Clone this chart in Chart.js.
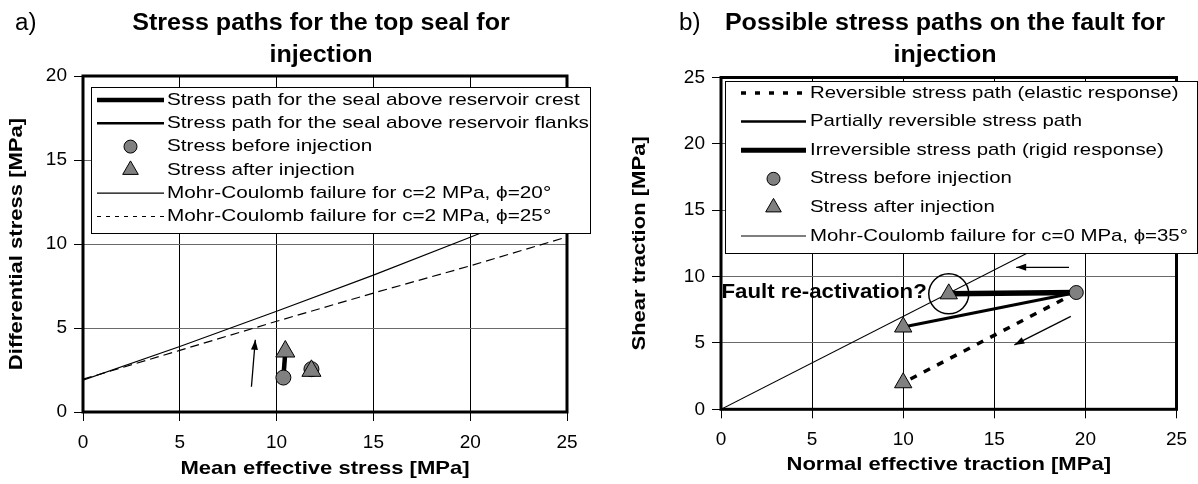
<!DOCTYPE html>
<html>
<head>
<meta charset="utf-8">
<script src="https://cdn.jsdelivr.net/npm/chart.js@4.4.1/dist/chart.umd.min.js"></script>
<style>
	html, body { margin: 0; padding: 0; background: #fff; }
	#wrap { position: relative; width: 1198px; height: 484px; overflow: hidden; }
	.panel { position: absolute; top: 0; height: 484px; }
	#panel-a { left: 0; width: 600px; }
	#panel-b { left: 600px; width: 598px; }
</style>
</head>
<body>
<div id="wrap">
	<div class="panel" id="panel-a"><canvas id="chart-a" width="600" height="484"></canvas></div>
	<div class="panel" id="panel-b"><canvas id="chart-b" width="598" height="484"></canvas></div>
</div>
<script>
// ---- panel a) top seal ----
const sealXTicks = [0, 5, 10, 15, 20, 25];
const sealYTicks = [0, 5, 10, 15, 20];
const sealBeforeX = [10.35, 11.8];
const sealBeforeY = [2.05, 2.55];
const sealAfterX = [10.45, 11.8];
const sealAfterY = [3.6, 2.45];
const mc20X = [0, 5, 10, 15, 20, 25];
const mc20Y = [1.9, 3.9, 6.0, 8.15, 10.4, 12.7];
const mc25X = [0, 5, 10, 15, 20, 25];
const mc25Y = [1.95, 3.67, 5.4, 7.08, 8.7, 10.42];
const sealArrowX = [8.7, 8.9];
const sealArrowY = [1.5, 4.3];

// ---- panel b) fault ----
const faultXTicks = [0, 5, 10, 15, 20, 25];
const faultYTicks = [0, 5, 10, 15, 20, 25];
const faultBeforeX = [19.5];
const faultBeforeY = [8.8];
const faultAfterX = [12.5, 10.0, 10.0]; // rigid, partial, elastic
const faultAfterY = [8.7, 6.2, 2.0];
const mc35X = [0, 25];
const mc35Y = [0, 17.5];
const arrowTopX = [19.1, 16.2];
const arrowTopY = [10.7, 10.7];
const arrowDiagX = [19.2, 16.1];
const arrowDiagY = [7.0, 4.85];

const FONT = '"Liberation Sans", Arial, sans-serif';
const GREY = '#808080';

const pts = (xs, ys) => xs.map((x, i) => ({ x: x, y: ys[i] }));

function stretchText(ctx, text, x, y, font, sx, align, rotate) {
	ctx.save();
	ctx.font = font;
	ctx.fillStyle = '#000';
	ctx.textBaseline = 'middle';
	ctx.textAlign = 'left';
	const w = ctx.measureText(text).width * sx;
	let off = 0;
	if (align === 'center') off = -w / 2;
	if (align === 'right') off = -w;
	ctx.translate(x, y);
	if (rotate) ctx.rotate(-Math.PI / 2);
	ctx.translate(off, 0);
	ctx.scale(sx, 1);
	ctx.fillText(text, 0, 0);
	ctx.restore();
}

function drawSample(ctx, item, x0, x1, y) {
	ctx.save();
	if (item.kind === 'line') {
		ctx.strokeStyle = '#000';
		ctx.lineWidth = item.width;
		ctx.setLineDash(item.dash || []);
		ctx.beginPath();
		ctx.moveTo(x0, y);
		ctx.lineTo(x1, y);
		ctx.stroke();
	} else {
		ctx.fillStyle = GREY;
		ctx.strokeStyle = '#000';
		ctx.lineWidth = 1;
		Chart.helpers.drawPoint(ctx, { pointStyle: item.kind, radius: item.r, rotation: 0, borderWidth: 1 }, (x0 + x1) / 2, y);
	}
	ctx.restore();
}

// frame, legend box, arrowheads, titles
const decorPlugin = {
	id: 'decor',
	afterDatasetsDraw(chart, args, opts) {
		const ctx = chart.ctx;
		const a = chart.chartArea;

		// arrow heads
		chart.data.datasets.forEach((ds, i) => {
			if (!ds.arrow) return;
			const d = chart.getDatasetMeta(i).data;
			const p0 = d[d.length - 2], p1 = d[d.length - 1];
			const ang = Math.atan2(p1.y - p0.y, p1.x - p0.x);
			ctx.save();
			ctx.translate(p1.x, p1.y);
			ctx.rotate(ang);
			ctx.fillStyle = '#000';
			ctx.beginPath();
			ctx.moveTo(0, 0);
			ctx.lineTo(-10, -3.5);
			ctx.lineTo(-10, 3.5);
			ctx.closePath();
			ctx.fill();
			ctx.restore();
		});

		// plot frame
		ctx.save();
		ctx.strokeStyle = '#000';
		ctx.lineWidth = 3;
		ctx.strokeRect(a.left, a.top, a.right - a.left, a.bottom - a.top);
		ctx.restore();

		// legend box
		const lg = opts.legend;
		ctx.save();
		ctx.fillStyle = '#fff';
		ctx.fillRect(lg.x0, lg.y0, lg.x1 - lg.x0, lg.y1 - lg.y0);
		ctx.strokeStyle = '#000';
		ctx.lineWidth = 1;
		ctx.strokeRect(lg.x0 + 0.5, lg.y0 + 0.5, lg.x1 - lg.x0, lg.y1 - lg.y0);
		ctx.restore();
		lg.items.forEach((item, i) => {
			const y = lg.rowY + i * lg.rowH;
			drawSample(ctx, item, lg.sx0, lg.sx1, y);
			stretchText(ctx, item.label, lg.tx, y, '17px ' + FONT, lg.stretch, 'left');
		});

		// titles
		const t = opts.titles;
		stretchText(ctx, t.tag, t.tagX, t.lineY[0], '23px ' + FONT, 1.05, 'left');
		t.lines.forEach((s, i) => stretchText(ctx, s, t.cx, t.lineY[i], 'bold 23px ' + FONT, 1.09, 'center'));
		stretchText(ctx, t.xTitle, (a.left + a.right) / 2, t.xTitleY, 'bold 19px ' + FONT, 1.16, 'center');
		stretchText(ctx, t.yTitle, t.yTitleX, (a.top + a.bottom) / 2, 'bold 19px ' + FONT, 1.16, 'center', true);

		if (opts.note) {
			const xs = chart.scales.x, ys = chart.scales.y;
			const px = xs.getPixelForValue(opts.note.x) - 22;
			const py = ys.getPixelForValue(opts.note.y) - 2;
			stretchText(ctx, opts.note.text, px, py, 'bold 21px ' + FONT, 1.06, 'right');
		}
	}
};

function axes(xTicks, yTicks, xMax, yMax, xHeight, yWidth) {
	const tickFont = { family: FONT, size: 19 };
	return {
		x: {
			type: 'linear', min: 0, max: xMax,
			afterBuildTicks: (s) => { s.ticks = xTicks.map((v) => ({ value: v })); },
			afterFit: (s) => { s.height = xHeight; },
			grid: { color: '#000', lineWidth: 1, tickLength: 9, tickColor: '#000' },
			border: { display: false },
			ticks: { color: '#000', font: tickFont, padding: 10, maxRotation: 0 }
		},
		y: {
			type: 'linear', min: 0, max: yMax,
			afterBuildTicks: (s) => { s.ticks = yTicks.map((v) => ({ value: v })); },
			afterFit: (s) => { s.width = yWidth; },
			grid: { color: '#6a6a6a', lineWidth: 1, tickLength: 9, tickColor: '#000' },
			border: { display: false },
			ticks: { color: '#000', font: tickFont, padding: 7 }
		}
	};
}

function markerSet(label, xs, ys, style, r) {
	return {
		label: label, data: pts(xs, ys), showLine: false,
		pointStyle: style, pointRadius: r, pointBackgroundColor: GREY,
		pointBorderColor: '#000', pointBorderWidth: 1
	};
}

function lineSet(label, data, width, dash, arrow) {
	return {
		label: label, data: data, showLine: true, pointRadius: 0,
		borderColor: '#000', borderWidth: width, borderDash: dash || [],
		tension: 0, arrow: !!arrow
	};
}

function renderSealChart() {
	const ctx = document.getElementById('chart-a');
	new Chart(ctx, {
		type: 'scatter',
		data: {
			datasets: [
				markerSet('Stress after injection', sealAfterX, sealAfterY, 'triangle', 11),
				markerSet('Stress before injection', sealBeforeX, sealBeforeY, 'circle', 7.5),
				lineSet('crest', [{ x: sealBeforeX[0], y: sealBeforeY[0] }, { x: sealAfterX[0], y: sealAfterY[0] }], 4.5),
				lineSet('flanks', [{ x: sealBeforeX[1], y: sealBeforeY[1] }, { x: sealAfterX[1], y: sealAfterY[1] }], 2.5),
				lineSet('mc20', pts(mc20X, mc20Y), 1.2),
				lineSet('mc25', pts(mc25X, mc25Y), 1.2, [9, 5]),
				lineSet('arrow', pts(sealArrowX, sealArrowY), 1.3, [], true)
			]
		},
		options: {
			responsive: false,
			animation: false,
			layout: { padding: { left: 0, right: 33, top: 76, bottom: 0 } },
			scales: axes(sealXTicks, sealYTicks, 25, 20, 72, 83),
			plugins: {
				legend: { display: false },
				tooltip: { enabled: false },
				decor: {
					legend: {
						x0: 91, y0: 87, x1: 590, y1: 233, rowY: 100, rowH: 23.3,
						sx0: 97, sx1: 164, tx: 167, stretch: 1.22,
						items: [
							{ kind: 'line', width: 4.5, label: 'Stress path for the seal above reservoir crest' },
							{ kind: 'line', width: 2.5, label: 'Stress path for the seal above reservoir flanks' },
							{ kind: 'circle', r: 6.5, label: 'Stress before injection' },
							{ kind: 'triangle', r: 9, label: 'Stress after injection' },
							{ kind: 'line', width: 1.2, label: 'Mohr-Coulomb failure for c=2 MPa, ϕ=20°' },
							{ kind: 'line', width: 1.2, dash: [4, 5], label: 'Mohr-Coulomb failure for c=2 MPa, ϕ=25°' }
						]
					},
					titles: {
						tag: 'a)', tagX: 15, cx: 321, lineY: [24, 56],
						lines: ['Stress paths for the top seal for', 'injection'],
						xTitle: 'Mean effective stress [MPa]', xTitleY: 469,
						yTitle: 'Differential stress [MPa]', yTitleX: 17
					}
				}
			}
		},
		plugins: [decorPlugin]
	});
}

function renderFaultChart() {
	const ctx = document.getElementById('chart-b');
	const before = { x: faultBeforeX[0], y: faultBeforeY[0] };
	new Chart(ctx, {
		type: 'scatter',
		data: {
			datasets: [
				{
					label: 'ring', data: pts(faultAfterX.slice(0, 1), faultAfterY.slice(0, 1)), showLine: false,
					pointStyle: 'circle', pointRadius: 20, pointBackgroundColor: 'rgba(0,0,0,0)',
					pointBorderColor: '#000', pointBorderWidth: 1.5
				},
				markerSet('Stress after injection', faultAfterX, faultAfterY, 'triangle', 10),
				markerSet('Stress before injection', faultBeforeX, faultBeforeY, 'circle', 7),
				lineSet('rigid', [before, { x: faultAfterX[0], y: faultAfterY[0] }], 5.5),
				lineSet('partial', [before, { x: faultAfterX[1], y: faultAfterY[1] }], 3),
				lineSet('elastic', [before, { x: faultAfterX[2], y: faultAfterY[2] }], 3.5, [7, 8]),
				lineSet('mc35', pts(mc35X, mc35Y), 1.2),
				lineSet('arrowTop', pts(arrowTopX, arrowTopY), 1.3, [], true),
				lineSet('arrowDiag', pts(arrowDiagX, arrowDiagY), 1.3, [], true)
			]
		},
		options: {
			responsive: false,
			animation: false,
			layout: { padding: { left: 0, right: 14.5, top: 77.5, bottom: 0 } },
			scales: axes(faultXTicks, faultYTicks, 25, 25, 74.7, 121),
			plugins: {
				legend: { display: false },
				tooltip: { enabled: false },
				decor: {
					legend: {
						x0: 125, y0: 81, x1: 597, y1: 253, rowY: 93, rowH: 28.6,
						sx0: 141, sx1: 206, tx: 210, stretch: 1.2,
						items: [
							{ kind: 'line', width: 3.5, dash: [5, 9], label: 'Reversible stress path (elastic response)' },
							{ kind: 'line', width: 2.5, label: 'Partially reversible stress path' },
							{ kind: 'line', width: 5, label: 'Irreversible stress path (rigid response)' },
							{ kind: 'circle', r: 6.5, label: 'Stress before injection' },
							{ kind: 'triangle', r: 9, label: 'Stress after injection' },
							{ kind: 'line', width: 1.2, label: 'Mohr-Coulomb failure for c=0 MPa, ϕ=35°' }
						]
					},
					titles: {
						tag: 'b)', tagX: 79, cx: 345, lineY: [24, 56],
						lines: ['Possible stress paths on the fault for', 'injection'],
						xTitle: 'Normal effective traction [MPa]', xTitleY: 465,
						yTitle: 'Shear traction [MPa]', yTitleX: 40
					},
					note: { text: 'Fault re-activation?', x: faultAfterX[0], y: faultAfterY[0] }
				}
			}
		},
		plugins: [decorPlugin]
	});
}

renderSealChart();
renderFaultChart();
</script>
</body>
</html>
